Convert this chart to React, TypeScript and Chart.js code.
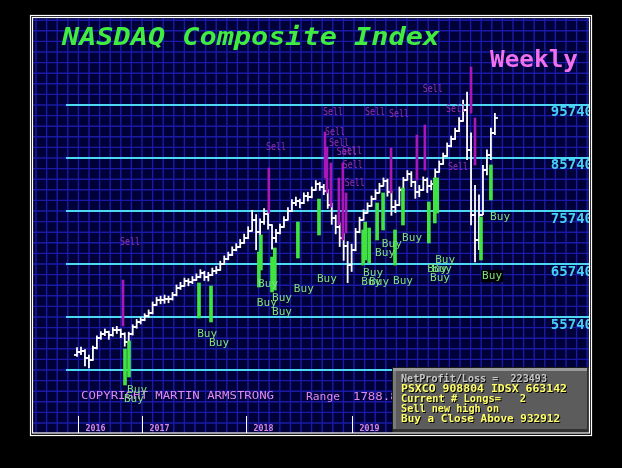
import React, { useEffect, useRef } from 'react';
import { Chart, registerables } from 'chart.js';
Chart.register(...registerables);

// Biweekly OHLC bars (index 0 = mid 2016), values in the chart's own units (index x 10)
const opens = [48600,49100,49300,48000,47700,49900,51800,52500,52900,52300,
  53300,53300,52500,51000,52500,53900,54800,55200,55900,56500,
  58000,59000,58900,59100,59100,59900,61200,61600,62500,62300,
  62700,63300,64000,63300,63700,64400,64600,65700,66700,67400,
  68400,68900,69700,70600,72000,74000,71800,73700,75200,73100,
  70600,71600,72700,74000,75700,77200,77600,77300,78600,78400,
  79700,80800,80300,79500,76900,74400,72700,70600,69100,65500,
  68400,71800,74000,75400,76700,78000,79100,80500,81400,79300,
  76500,76900,79700,81600,82700,81200,79300,79700,81600,80500,
  80800,83100,84600,86100,88000,89300,90800,92700,94800,87200,
  75000,70300,75000,83500,86300,90500];
const highs = [50000,50100,49600,48600,50300,52200,53000,53500,53100,53800,
  54000,53500,52800,52900,54300,55300,55700,56400,57100,58600,
  59500,59700,59900,59700,60400,61800,62300,63100,63000,63400,
  63900,64700,64400,64200,65000,65300,66300,67300,68000,69000,
  69600,70400,71400,72800,75900,75100,74300,76200,75600,73200,
  72300,73300,74700,76400,77900,78400,78000,79200,79300,80300,
  81500,81200,80800,79800,77200,75000,73500,71500,70000,69500,
  72500,74600,76000,77300,78600,79800,81000,82000,81800,79500,
  77800,80300,82100,83400,83200,81400,80600,82200,82000,81500,
  83700,85200,86700,88600,89900,91400,93400,96700,98200,90500,
  80600,78800,84400,87300,91400,94200];
const lows = [48300,48600,46500,46100,47500,49700,51500,52200,51500,52100,
  52600,51800,50200,50700,52300,53600,54400,55000,55700,56300,
  57900,58200,58300,58400,58900,59700,60900,61500,61600,62000,
  62600,63100,62600,62500,63500,63900,64500,65600,66500,67300,
  68200,68800,69600,70500,71900,68400,70800,73200,72300,68500,
  69800,71400,72600,74000,75600,76700,76300,77100,77600,78200,
  79600,79600,78800,76200,73200,71400,69000,66400,62200,64300,
  68200,71600,74000,75300,76600,77900,79100,80400,78500,74900,
  75400,76700,79400,81500,80300,78100,78400,79600,79200,79700,
  80600,83000,84500,86000,87800,89200,90700,92600,85400,73100,
  66100,68400,75000,82500,85400,90100];
const closes = [49140,49330,48000,47630,49890,51780,52530,52910,52340,53290,
  53290,52530,51020,52530,53850,54800,55170,55930,56500,58000,
  58950,58950,59140,59140,59890,61210,61590,62530,62340,62720,
  63290,64040,63290,63660,64420,64610,65740,66680,67440,68380,
  68950,69700,70650,71970,74040,71780,73660,75170,73100,70650,
  71590,72720,74040,75740,77250,77630,77250,78570,78380,79700,
  80830,80270,79510,76870,74420,72720,70650,69140,65550,68380,
  71780,74040,75360,76680,78000,79140,80460,81400,79330,76490,
  76870,79700,81590,82720,81210,79330,79700,81590,80460,80830,
  83100,84610,86120,88000,89320,90830,92720,94800,87250,75000,
  70270,75000,83480,86300,90460,93290];

// Horizontal reference levels and their labels
const priceLevels = [45740, 55740, 65740, 75740, 85740, 95740];

// Year boundaries (bar index) and labels
const yearTickIdx = [0.25, 16.33, 42.46, 69.1, 95.48];
const yearLabels = ['2016', '2017', '2018', '2019', '2020'];

// Sell signal bars
const sellX = [11.56, 48.2, 62.3, 62.8, 63.8, 65.8, 66.8, 67.6, 78.9, 85.4, 87.4, 99.0, 100.0];
const sellTop = [62720, 83850, 90650, 87820, 84800, 81970, 84800, 79140, 87630, 90080, 91970, 102910, 93290];
const sellBottom = [54040, 75360, 81970, 79140, 76500, 73100, 70270, 71590, 79140, 81590, 83480, 94230, 84420];

// Buy signal bars
const buyX = [12.06, 13.07, 30.65, 33.67, 45.7, 46.2, 49.0, 49.7, 55.5, 60.8, 71.9, 72.4, 73.4, 75.4, 76.9, 79.9, 81.9, 88.4, 89.9, 90.5, 101.5, 104.0];
const buyTop = [49700, 51210, 62160, 61590, 68000, 71210, 67060, 68760, 73660, 78000, 72160, 73660, 72530, 77250, 79140, 72160, 80080, 77440, 81970, 81970, 74610, 84420];
const buyBottom = [42910, 44420, 55550, 54800, 61400, 64610, 60460, 60830, 66870, 71210, 65550, 66500, 65930, 70270, 72160, 65550, 73100, 69700, 73480, 75360, 66500, 77820];

// Signal label positions (bar index, value)
const sellLabelX = [13.3, 50.0, 64.3, 74.9, 80.9, 89.4, 64.8, 65.8, 67.8, 69.1, 69.3, 69.8, 95.2, 95.7];
const sellLabelY = [70080, 88000, 94610, 94610, 94230, 98950, 90830, 88760, 87060, 87250, 84610, 81210, 95170, 84230];
const buyLabelX = [15.1, 14.3, 32.7, 35.7, 48.0, 47.7, 51.5, 51.5, 57.0, 62.8, 74.4, 73.9, 75.9, 81.9, 77.4, 79.1, 84.2, 92.5, 90.5, 91.7, 91.2, 106.3, 104.3];
const buyLabelY = [41970, 40270, 52720, 51020, 61970, 58570, 59330, 56870, 61210, 62910, 64230, 62530, 62530, 62720, 67820, 69700, 70650, 66680, 64800, 64800, 63100, 74610, 63480];

const infoLines = [
  'NetProfit/Loss =  223493',
  'PSXCO 908804 IDSX 663142',
  'Current # Longs=   2',
  'Sell new high on',
  'Buy a Close Above 932912',
];
const infoWidths = [146, 166, 125, 98, 159];

const MONO = '"DejaVu Sans Mono", monospace';

function fitText(ctx: CanvasRenderingContext2D, text: string, x: number, y: number, width: number, font: string, color: string) {
  ctx.save();
  ctx.font = font;
  const w = ctx.measureText(text).width;
  ctx.translate(x, y);
  ctx.scale(width / w, 1);
  ctx.fillStyle = color;
  ctx.textAlign = 'left';
  ctx.textBaseline = 'alphabetic';
  ctx.fillText(text, 0, 0);
  ctx.restore();
}

function hline(ctx: CanvasRenderingContext2D, x1: number, x2: number, y: number) {
  ctx.beginPath(); ctx.moveTo(x1, y); ctx.lineTo(x2, y); ctx.stroke();
}
function vline(ctx: CanvasRenderingContext2D, x: number, y1: number, y2: number) {
  ctx.beginPath(); ctx.moveTo(x, y1); ctx.lineTo(x, y2); ctx.stroke();
}

const backdrop = {
  id: 'backdrop',
  beforeDraw(chart: any) {
    const ctx: CanvasRenderingContext2D = chart.ctx;
    const xs = chart.scales.x, ys = chart.scales.y;
    ctx.save();
    ctx.fillStyle = '#000';
    ctx.fillRect(0, 0, chart.width, chart.height);
    ctx.fillStyle = '#000038';
    ctx.fillRect(32, 17, 558, 416);
    ctx.beginPath(); ctx.rect(32, 17, 558, 416); ctx.clip();
    // blue grid
    ctx.strokeStyle = '#1a1aa6';
    ctx.lineWidth = 1.4;
    for (let gx = 36; gx < 590; gx += 10.6) vline(ctx, gx, 17, 433);
    for (let v = 33740; v <= 115740; v += 2000) {
      const py = ys.getPixelForValue(v);
      if (py > 16 && py < 434) hline(ctx, 32, 590, py);
    }
    // cyan levels
    ctx.strokeStyle = '#4cd8f4';
    ctx.lineWidth = 2;
    for (const lv of priceLevels) hline(ctx, 66, 590, ys.getPixelForValue(lv));
    ctx.font = 'bold 14px ' + MONO;
    ctx.fillStyle = '#44d0f0';
    ctx.textAlign = 'right';
    ctx.textBaseline = 'alphabetic';
    for (const lv of priceLevels) ctx.fillText(String(lv), 593, ys.getPixelForValue(lv) + 11.5);
    // title
    fitText(ctx, 'NASDAQ Composite Index', 62, 45, 378, 'bold italic 25px ' + MONO, '#40ec40');
    fitText(ctx, 'Weekly', 490, 67, 88, 'bold 23px ' + MONO, '#f070f0');
    // copyright & range
    fitText(ctx, 'COPYRIGHT MARTIN ARMSTRONG', 81, 399, 193, '11px ' + MONO, '#e088f0');
    fitText(ctx, 'Range', 306, 400, 34, '11px ' + MONO, '#e088f0');
    fitText(ctx, '1788.80', 353, 400, 52, '11px ' + MONO, '#e088f0');
    // year ticks
    ctx.strokeStyle = '#ffffff';
    ctx.lineWidth = 1;
    yearTickIdx.forEach((t, i) => {
      const px = Math.round(xs.getPixelForValue(t)) + 0.5;
      vline(ctx, px, 416, 433);
      fitText(ctx, yearLabels[i], px + 7, 431, 20, 'bold 9px ' + MONO, '#d888e8');
    });
    ctx.restore();
  },
  afterDatasetsDraw(chart: any) {
    const ctx: CanvasRenderingContext2D = chart.ctx;
    const xs = chart.scales.x, ys = chart.scales.y;
    ctx.save();
    ctx.beginPath(); ctx.rect(32, 17, 558, 416); ctx.clip();
    sellLabelX.forEach((sx, i) => {
      const px = xs.getPixelForValue(sx), py = ys.getPixelForValue(sellLabelY[i]);
      fitText(ctx, 'Sell', px - 10, py + 4, 20, '10.5px ' + MONO, '#9830b4');
    });
    buyLabelX.forEach((bx, i) => {
      const px = xs.getPixelForValue(bx), py = ys.getPixelForValue(buyLabelY[i]);
      if (i === buyLabelX.length - 1) {
        ctx.fillStyle = '#000';
        ctx.fillRect(px - 11, py - 6, 22, 12);
      }
      fitText(ctx, 'Buy', px - 10, py + 3.5, 20, '10.5px ' + MONO, '#7ce07c');
    });
    // info box
    const bx = 392, by = 367, bw = 199, bh = 66;
    ctx.fillStyle = '#1a1a1a';
    ctx.fillRect(bx, by, bw, bh);
    ctx.fillStyle = '#9a9a9a';
    ctx.fillRect(bx + 1, by + 1, bw - 2, 3);
    ctx.fillStyle = '#303030';
    ctx.fillRect(bx + 1, by + bh - 4, bw - 2, 3);
    ctx.fillRect(bx + bw - 4, by + 1, 3, bh - 2);
    ctx.fillStyle = '#7a7a7a';
    ctx.fillRect(bx + 1, by + 4, 3, bh - 8);
    ctx.fillStyle = '#5c5c5c';
    ctx.fillRect(bx + 4, by + 4, bw - 8, bh - 8);
    infoLines.forEach((t, i) => {
      const yy = 382 + i * 10;
      fitText(ctx, t, 402, yy + 1, infoWidths[i], 'bold 10.5px ' + MONO, '#000');
      fitText(ctx, t, 401, yy, infoWidths[i], 'bold 10.5px ' + MONO, i === 0 ? '#c8c8c8' : '#ffff68');
    });
    ctx.restore();
    // frame
    ctx.save();
    ctx.strokeStyle = '#ffffff';
    ctx.lineWidth = 1.2;
    ctx.strokeRect(30.5, 15.5, 561, 420);
    ctx.strokeRect(32.5, 17.5, 557, 415.5);
    ctx.restore();
  },
};

function makeTick(side: 'left' | 'right'): HTMLCanvasElement {
  const c = document.createElement('canvas');
  c.width = 8; c.height = 2;
  const g = c.getContext('2d')!;
  g.fillStyle = 'rgba(255,255,255,0.9)';
  if (side === 'right') g.fillRect(4, 0, 3, 2); else g.fillRect(1, 0, 3, 2);
  return c;
}

export default function App() {
  const ref = useRef<HTMLCanvasElement>(null);
  useEffect(() => {
    document.body.style.margin = '0';
    document.body.style.background = '#000';
    const canvas = ref.current!;
    const rangeBars = highs.map((h, i) => ({ x: i, y: [lows[i], h] }));
    const closePts = closes.map((c, i) => ({ x: i, y: c }));
    const openPts = opens.map((o, i) => ({ x: i, y: o }));
    const sellBars = sellX.map((x, i) => ({ x, y: [sellBottom[i], sellTop[i]] }));
    const buyBars = buyX.map((x, i) => ({ x, y: [buyBottom[i], buyTop[i]] }));
    const chart = new Chart(canvas, {
      type: 'bar',
      data: {
        datasets: [
          { type: 'bar', data: sellBars as any, backgroundColor: '#a818b8', barThickness: 2, grouped: false, order: 1 } as any,
          { type: 'bar', data: buyBars as any, backgroundColor: '#40e440', barThickness: 3, grouped: false, order: 1 } as any,
          { type: 'bar', data: rangeBars as any, backgroundColor: '#ffffff', barThickness: 1.4, inflateAmount: 0.2, grouped: false, order: 3 } as any,
          { type: 'line', data: closePts, showLine: false, pointStyle: makeTick('right'), pointRadius: 1, order: 2 } as any,
          { type: 'line', data: openPts, showLine: false, pointStyle: makeTick('left'), pointRadius: 1, order: 2 } as any,
        ],
      },
      options: {
        animation: false,
        responsive: false,
        devicePixelRatio: 1,
        layout: { padding: { left: 33, right: 33, top: 18, bottom: 36 } },
        scales: {
          x: { type: 'linear', min: -11.055, max: 128.64, display: false, offset: false },
          y: { type: 'linear', min: 34042, max: 112155, display: false },
        },
        plugins: { legend: { display: false }, tooltip: { enabled: false } },
        events: [],
      } as any,
      plugins: [backdrop],
    });
    return () => chart.destroy();
  }, []);
  return (
    <div style={{ width: 622, height: 468 }}>
      <canvas ref={ref} width={622} height={468} style={{ display: 'block', width: 622, height: 468 }} />
    </div>
  );
}
